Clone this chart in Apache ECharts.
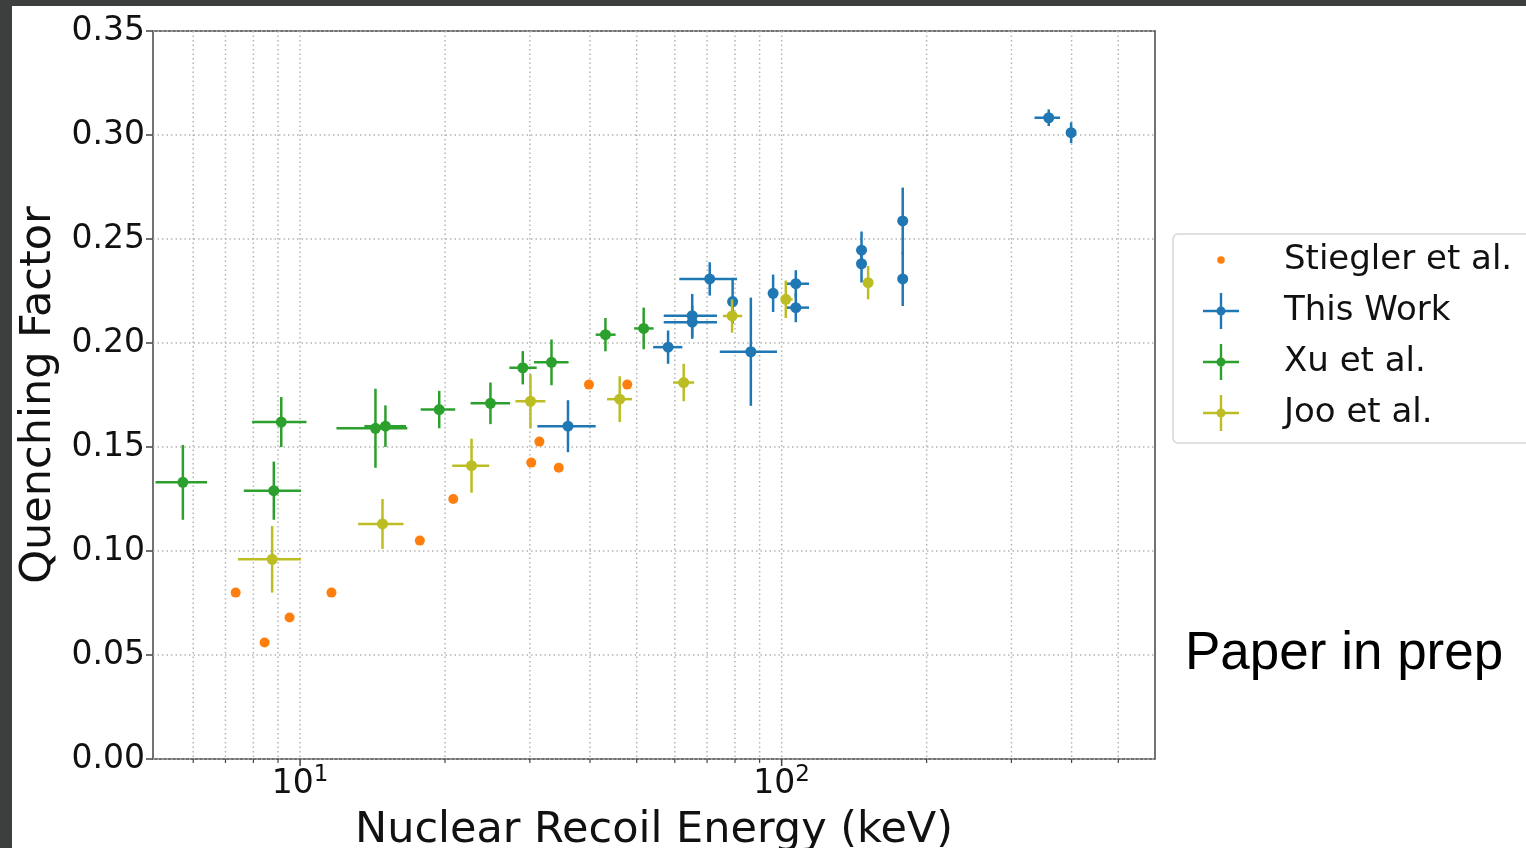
<!DOCTYPE html>
<html>
<head>
<meta charset="utf-8">
<script src="https://cdn.jsdelivr.net/npm/echarts@6/dist/echarts.min.js"></script>
<style>
html,body{margin:0;padding:0;background:#fff;}
#chart{width:1526px;height:848px;}
</style>
</head>
<body>
<div id="chart"></div>
<script>
// ---------- data ----------
const seriesNames = ['Stiegler et al.', 'This Work', 'Xu et al.', 'Joo et al.'];

// Stiegler et al. (points only)
const stieglerX = [7.35, 8.44, 9.51, 11.62, 17.73, 20.8, 30.2, 31.4, 34.45, 39.8, 47.8];
const stieglerY = [0.080, 0.056, 0.068, 0.080, 0.105, 0.125, 0.1425, 0.1526, 0.140, 0.180, 0.180];

// This Work
const thisX    = [36.0, 58.1, 65.2, 65.2, 70.9, 79.1, 86.3, 96.0, 107.0, 107.0, 146.5, 146.5, 178.4, 178.4, 358.6, 399.1];
const thisY    = [0.160, 0.198, 0.2131, 0.210, 0.2308, 0.2199, 0.1958, 0.2239, 0.2285, 0.217, 0.2446, 0.2381, 0.2587, 0.2308, 0.3083, 0.3011];
const thisXLo  = [31.1, 54.1, 56.9, 56.9, 61.3, 78.2, 74.4, 95.0, 101.9, 101.9, 145.0, 145.0, 177.0, 177.0, 335.0, 395.0];
const thisXHi  = [41.1, 62.2, 73.4, 73.4, 80.8, 80.0, 97.8, 97.0, 114.0, 114.0, 148.0, 148.0, 180.0, 180.0, 378.6, 403.0];
const thisYErr = [0.0125, 0.008, 0.0105, 0.008, 0.008, 0.0105, 0.026, 0.009, 0.0065, 0.007, 0.009, 0.009, 0.016, 0.013, 0.004, 0.005];

// Xu et al.
const xuX    = [5.71, 8.82, 9.14, 14.34, 15.04, 19.45, 24.85, 29.0, 33.27, 43.06, 51.7];
const xuY    = [0.133, 0.129, 0.162, 0.159, 0.160, 0.168, 0.171, 0.1881, 0.1907, 0.204, 0.207];
const xuXLo  = [5.01, 7.64, 7.95, 11.9, 13.6, 17.8, 22.6, 27.2, 30.6, 41.1, 49.4];
const xuXHi  = [6.41, 10.05, 10.31, 16.7, 16.6, 21.0, 27.3, 31.0, 36.1, 45.2, 54.2];
const xuYErr = [0.018, 0.014, 0.012, 0.019, 0.010, 0.009, 0.010, 0.008, 0.011, 0.008, 0.010];

// Joo et al.
const jooX    = [8.75, 14.83, 22.7, 30.09, 46.1, 62.6, 78.9, 102.0, 151.2];
const jooY    = [0.096, 0.113, 0.141, 0.172, 0.173, 0.181, 0.213, 0.221, 0.229];
const jooXLo  = [7.43, 13.2, 20.7, 28.0, 43.4, 59.5, 75.5, 99.8, 149.5];
const jooXHi  = [10.05, 16.4, 24.7, 32.3, 48.9, 65.8, 82.8, 105.4, 153.0];
const jooYErr = [0.016, 0.012, 0.013, 0.013, 0.011, 0.009, 0.008, 0.009, 0.008];

// axis ticks
const xMajorTicks = [10, 100];
const xMinorTicks = [6, 7, 8, 9, 20, 30, 40, 50, 60, 70, 80, 90, 200, 300, 400, 500];
const xMin = 4.95, xMax = 596;
const yMin = 0, yMax = 0.35, yStep = 0.05;

// ---------- styles ----------
const COLORS = {orange: '#ff7f0e', blue: '#1f77b4', green: '#2ca02c', olive: '#bcbd22'};
const FONT = 'DejaVu Sans';
const GRID_COLOR = '#b4b4b4';
const AXIS_COLOR = '#444';

function buildErr(xs, ys, xlo, xhi, yerr) {
  return xs.map((x, i) => [x, ys[i], xlo[i], xhi[i], ys[i] - yerr[i], ys[i] + yerr[i]]);
}

function errRender(color) {
  return function (params, api) {
    const x = api.value(0), y = api.value(1);
    const c = api.coord([x, y]);
    const l = api.coord([api.value(2), y]);
    const r = api.coord([api.value(3), y]);
    const b = api.coord([x, api.value(4)]);
    const t = api.coord([x, api.value(5)]);
    return {
      type: 'group',
      children: [
        {type: 'line', shape: {x1: l[0], y1: l[1], x2: r[0], y2: r[1]}, style: {stroke: color, lineWidth: 2.5}},
        {type: 'line', shape: {x1: t[0], y1: t[1], x2: b[0], y2: b[1]}, style: {stroke: color, lineWidth: 2.5}},
        {type: 'circle', shape: {cx: c[0], cy: c[1], r: 5.5}, style: {fill: color}}
      ]
    };
  };
}

const crossIcon = 'path://M16.8,0 L19.2,0 L19.2,16.8 L36,16.8 L36,19.2 L19.2,19.2 L19.2,36 L16.8,36 L16.8,19.2 L0,19.2 L0,16.8 L16.8,16.8 Z ' +
  'M22.5,18 A4.5,4.5 0 1,1 13.5,18 A4.5,4.5 0 1,1 22.5,18 Z';
const dotIcon = 'path://M0,0 L0.01,0 L0,0.01 Z M36,36 L35.99,36 L36,35.99 Z M21.8,18 A3.8,3.8 0 1,1 14.2,18 A3.8,3.8 0 1,1 21.8,18 Z';

const gridTickData = xMajorTicks.map(v => [v, 1]).concat(xMinorTicks.map(v => [v, 0]));

const chart = echarts.init(document.getElementById('chart'), null, {renderer: 'canvas'});
chart.setOption({
  backgroundColor: '#fff',
  animation: false,
  textStyle: {fontFamily: FONT},
  grid: {
    left: 153, top: 31, right: 371, bottom: 89,
    outerBoundsMode: 'none', containLabel: false,
    show: true, borderColor: AXIS_COLOR, borderWidth: 1.5, backgroundColor: 'transparent'
  },
  xAxis: {
    type: 'log', logBase: 10, min: xMin, max: xMax,
    name: 'Nuclear Recoil Energy (keV)', nameLocation: 'middle', nameGap: 41,
    nameTextStyle: {fontFamily: FONT, fontSize: 43, color: '#111'},
    axisLine: {show: false},
    axisTick: {show: false},
    splitLine: {show: false},
    axisLabel: {
      margin: 5,
      showMinLabel: false, showMaxLabel: false,
      formatter: function (v) {
        const e = Math.log10(v);
        const r = Math.round(e);
        if (Math.abs(e - r) < 1e-6) return '{b|10}{s|' + r + '}';
        return '';
      },
      rich: {
        b: {fontFamily: FONT, fontSize: 33, color: '#111', lineHeight: 40},
        s: {fontFamily: FONT, fontSize: 23, color: '#111', lineHeight: 40, padding: [0, 0, 17, 0]}
      }
    }
  },
  yAxis: {
    type: 'value', min: yMin, max: yMax, interval: yStep,
    name: 'Quenching Factor', nameLocation: 'middle', nameGap: 92,
    nameTextStyle: {fontFamily: FONT, fontSize: 43, color: '#111'},
    axisLine: {show: false},
    axisTick: {show: true, length: 7, lineStyle: {color: AXIS_COLOR, width: 1.5}},
    splitLine: {show: true, lineStyle: {color: GRID_COLOR, width: 1.5, type: [1.5, 3]}},
    axisLabel: {
      margin: 8, fontFamily: FONT, fontSize: 33, color: '#111',
      formatter: v => v.toFixed(2)
    }
  },
  legend: {
    orient: 'vertical',
    left: 1173, top: 234,
    padding: [8, 30, 12, 30],
    itemGap: 15,
    itemWidth: 36, itemHeight: 36,
    backgroundColor: '#fff',
    borderColor: '#d6d6d6', borderWidth: 1.5, borderRadius: 5,
    textStyle: {fontFamily: FONT, fontSize: 34, color: '#111', padding: [0, 0, 0, 40]},
    data: [
      {name: seriesNames[0], icon: dotIcon},
      {name: seriesNames[1], icon: crossIcon},
      {name: seriesNames[2], icon: crossIcon},
      {name: seriesNames[3], icon: crossIcon}
    ]
  },
  graphic: [
    {type: 'rect', left: 0, top: 0, shape: {width: 12, height: 848}, style: {fill: '#3d3e3e'}, z: 100},
    {type: 'rect', left: 0, top: 0, shape: {width: 1526, height: 6}, style: {fill: '#3d3e3e'}, z: 100},
    {type: 'text', left: 1185, top: 628, style: {text: 'Paper in prep', font: '53px "Liberation Sans"', fill: '#000'}}
  ],
  series: [
    {
      name: 'xgrid', type: 'custom', silent: true, clip: false, z: 1,
      data: gridTickData,
      encode: {x: 0},
      renderItem: function (params, api) {
        const x = api.value(0);
        const major = api.value(1) === 1;
        const top = api.coord([x, yMax]);
        const bot = api.coord([x, yMin]);
        return {
          type: 'group',
          children: [
            {type: 'line', shape: {x1: top[0], y1: top[1], x2: bot[0], y2: bot[1]},
             style: {stroke: GRID_COLOR, lineWidth: 1.5, lineDash: [1.5, 3]}},
            {type: 'line', shape: {x1: bot[0], y1: bot[1], x2: bot[0], y2: bot[1] + (major ? 7 : 4)},
             style: {stroke: AXIS_COLOR, lineWidth: major ? 1.5 : 1.2}}
          ]
        };
      }
    },
    {
      name: seriesNames[0], type: 'scatter', z: 2,
      symbol: 'circle', symbolSize: 10,
      itemStyle: {color: COLORS.orange, opacity: 1},
      data: stieglerX.map((x, i) => [x, stieglerY[i]])
    },
    {
      name: seriesNames[1], type: 'custom', z: 3,
      itemStyle: {color: COLORS.blue},
      encode: {x: 0, y: 1},
      data: buildErr(thisX, thisY, thisXLo, thisXHi, thisYErr),
      renderItem: errRender(COLORS.blue)
    },
    {
      name: seriesNames[2], type: 'custom', z: 4,
      itemStyle: {color: COLORS.green},
      encode: {x: 0, y: 1},
      data: buildErr(xuX, xuY, xuXLo, xuXHi, xuYErr),
      renderItem: errRender(COLORS.green)
    },
    {
      name: seriesNames[3], type: 'custom', z: 5,
      itemStyle: {color: COLORS.olive},
      encode: {x: 0, y: 1},
      data: buildErr(jooX, jooY, jooXLo, jooXHi, jooYErr),
      renderItem: errRender(COLORS.olive)
    }
  ]
});
</script>
</body>
</html>
